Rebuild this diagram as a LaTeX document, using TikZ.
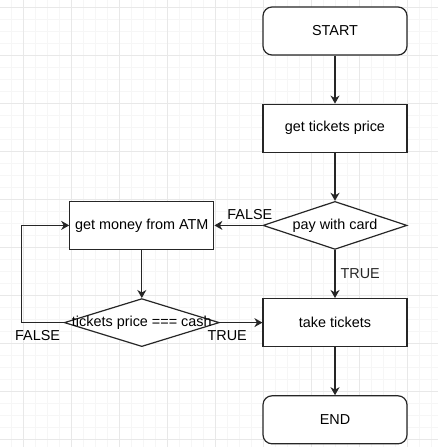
\documentclass[tikz,border=0pt]{standalone}
\usepackage{fontspec}
\setmainfont{Liberation Sans}
\usetikzlibrary{shapes.geometric, arrows.meta, positioning}
\definecolor{gridmajor}{HTML}{E8E8E8}
\definecolor{gridminor}{HTML}{F6F6F6}

\begin{document}
\begin{tikzpicture}[
    x=1pt, y=1pt,
    every node/.style={font=\fontsize{14.4}{17}\selectfont},
    terminal/.style={rectangle, draw=black!85, line width=1.2pt, fill=white,
                     minimum width=144pt, minimum height=48pt, rounded corners=9pt},
    process/.style={rectangle, draw=black!85, line width=1.2pt, fill=white,
                    minimum width=144pt, minimum height=48pt},
    decision/.style={diamond, draw=black!85, line width=1.2pt, fill=white,
                     inner sep=0pt, minimum width=144pt, minimum height=48pt},
    arrow/.style={-{Stealth[length=8pt, width=9pt, inset=2.5pt]}, line width=1.2pt, black!85},
    lbl/.style={inner sep=0pt}
]
    % background grid (y measured downwards from the top edge)
    \useasboundingbox (0,0) rectangle (438,-447);
    \fill[white] (0,0) rectangle (438,-447);
    \foreach \x in {11,23,...,431} \draw[gridminor, line width=1pt] (\x,0) -- (\x,-447);
    \foreach \y in {7,19,...,439} \draw[gridminor, line width=1pt] (0,-\y) -- (438,-\y);
    \foreach \x in {23,71,...,407} \draw[gridmajor, line width=1pt] (\x,0) -- (\x,-447);
    \foreach \y in {7,55,...,439} \draw[gridmajor, line width=1pt] (0,-\y) -- (438,-\y);

    \node[terminal] (start) at (335,-31) {START};
    \node[process, below=48pt of start] (price) {get tickets price};
    \node[decision, below=48pt of price] (card) {\makebox[0pt]{pay with card}};
    \node[process, below=48pt of card] (ticket) {take tickets};
    \node[terminal, below=48pt of ticket] (finish) {END};
    \node[process, left=48pt of card] (money) {get money from ATM};
    \node[decision, below=48pt of money, minimum width=155pt] (cash)
        {\makebox[0pt]{tickets price === cash}};
    \coordinate[left=42.5pt of cash.west] (loop);

    \draw[arrow] (start) -- (price);
    \draw[arrow] (price) -- (card);
    \draw[arrow] (card) -- node[lbl, right=5pt] {TRUE} (ticket);
    \draw[arrow] (card) -- (money);
    \draw[arrow] (money) -- (cash);
    \draw[arrow] (cash) -- (ticket);
    \draw[arrow] (cash.west) -- (loop) |- (money.west);
    \draw[arrow] (ticket) -- (finish);

    \node[lbl, above=6pt of card.west, xshift=-12.5pt] {FALSE};
    \node[lbl, below left=8pt and 3.5pt of cash.west] {FALSE};
    \node[lbl, below right=8pt and -12.5pt of cash.east] {TRUE};
\end{tikzpicture}
\end{document}
